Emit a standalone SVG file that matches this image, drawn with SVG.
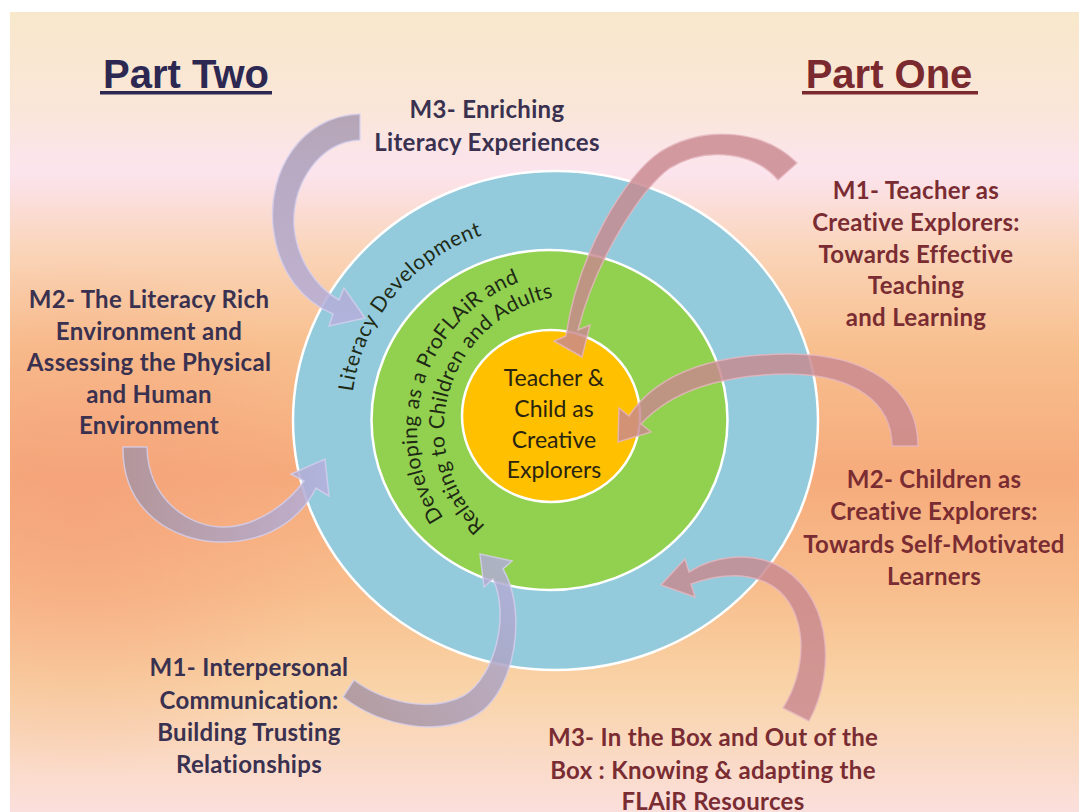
<svg xmlns="http://www.w3.org/2000/svg" width="1079" height="812" viewBox="0 0 1079 812">
<defs>
<linearGradient id="bg" x1="0" y1="12" x2="0" y2="812" gradientUnits="userSpaceOnUse">
<stop offset="0" stop-color="#f8e8cb"/>
<stop offset="0.12" stop-color="#fae6d8"/>
<stop offset="0.2" stop-color="#fce4ee"/>
<stop offset="0.3" stop-color="#fad4b8"/>
<stop offset="0.42" stop-color="#f8bf8e"/>
<stop offset="0.58" stop-color="#f6ab7c"/>
<stop offset="0.72" stop-color="#f8bd8c"/>
<stop offset="0.84" stop-color="#f9d3a6"/>
<stop offset="1" stop-color="#fbdfdc"/>
</linearGradient>
<radialGradient id="salmon" cx="80" cy="520" r="260" gradientUnits="userSpaceOnUse">
<stop offset="0" stop-color="#f49c78" stop-opacity="0.55"/>
<stop offset="1" stop-color="#f49c78" stop-opacity="0"/>
</radialGradient>
<linearGradient id="gA" x1="0" y1="114" x2="0" y2="330" gradientUnits="userSpaceOnUse">
<stop offset="0" stop-color="#a99aaf"/>
<stop offset="1" stop-color="#b6b0de"/>
</linearGradient>
<linearGradient id="gB" x1="123" y1="0" x2="330" y2="0" gradientUnits="userSpaceOnUse">
<stop offset="0" stop-color="#a7939f"/>
<stop offset="1" stop-color="#b6b0de"/>
</linearGradient>
<linearGradient id="gC" x1="343" y1="700" x2="500" y2="560" gradientUnits="userSpaceOnUse">
<stop offset="0" stop-color="#a7939f"/>
<stop offset="1" stop-color="#b2aed8"/>
</linearGradient>
<style>
.bg{fill:url(#bg)}
.ring{stroke:#ffffff;stroke-width:2.5}
.lbl{font-family:Lato,"Open Sans",sans-serif;font-weight:bold;font-size:24px;letter-spacing:0.3px;text-anchor:middle}
.left{fill:#3a3150}
.right{fill:#7a2c33}
.hdr{font-family:"Liberation Sans",Arial,sans-serif;font-weight:bold;font-size:40px;text-anchor:middle}
.arc{font-family:Lato,"Open Sans",sans-serif;font-size:21px;fill:#1e2a14}
.ctr{font-family:Lato,"Open Sans",sans-serif;font-size:23px;fill:#2a2410;text-anchor:middle}
.purp{fill-opacity:0.85;stroke:#d6cfee;stroke-width:1.5;stroke-opacity:0.8}
.pink{fill:#c8888f;fill-opacity:0.82;stroke:#e6b8c0;stroke-width:1.5;stroke-opacity:0.8}
</style>
<path id="pLit" d="M 351,418 A 193,193 0 0 1 544,225" fill="none"/>
<path id="pDev" d="M 454,531.6 A 158,158 0 0 1 547.6,274.4" fill="none"/>
<path id="pRel" d="M 501.1,538.8 A 134,134 0 0 1 566.3,295.5" fill="none"/>
</defs>
<rect x="0" y="0" width="1079" height="812" fill="#ffffff"/>
<rect x="10" y="12" width="1069" height="800" class="bg"/>
<rect x="10" y="12" width="1069" height="800" fill="url(#salmon)"/>

<g id="rings">
<ellipse cx="555.5" cy="420.5" rx="262.5" ry="249.5" fill="#93cbdc" class="ring"/>
<ellipse cx="549.5" cy="420" rx="178" ry="170" fill="#92d050" class="ring"/>
<ellipse cx="551" cy="416" rx="89" ry="86" fill="#ffc000" class="ring"/>
</g>

<g id="ring-texts">
<text class="arc" font-size="22" letter-spacing="0.6"><textPath href="#pLit" startOffset="26">Literacy Development</textPath></text>
<text class="arc" font-size="20" letter-spacing="0.3"><textPath href="#pDev" startOffset="17">Developing as a ProFLAiR and</textPath></text>
<text class="arc" font-size="20" letter-spacing="0.3"><textPath href="#pRel" startOffset="20">Relating to Children and Adults</textPath></text>
</g>

<g id="center">
<text class="ctr" x="554" y="386">Teacher &amp;</text>
<text class="ctr" x="554" y="417">Child as</text>
<text class="ctr" x="554" y="448">Creative</text>
<text class="ctr" x="554" y="478">Explorers</text>
</g>

<g id="connectors">
<path class="purp" fill="url(#gA)" d="M 360,114 L 360,140 C 318,142 292,185 294,226 C 297,262 318,288 339,300 L 344,288 L 365,318 L 329,326 L 333,314 C 305,302 278,275 273,226 C 268,172 300,116 360,114 Z"/>
<path class="purp" fill="url(#gB)" d="M 123,447 L 147,447 C 148,500 190,528 225,527 C 258,526 288,503 304,481 L 291,474 L 325,459 L 329,496 L 316,488 C 300,520 268,541 225,542 C 172,543 122,510 123,447 Z"/>
<path class="purp" fill="url(#gC)" d="M 343,697 L 354,680 C 386,704 432,712 463,696 C 495,678 510,615 493,579 L 484,587 L 480,554 L 512,561 L 503,569 C 528,612 515,690 478,714 C 440,738 380,726 343,697 Z"/>
<path class="pink" d="M 797,163 L 778,180 C 755,152 706,146 670,168 C 643,187 596,258 578,330 L 590,325 L 582,357 L 554,341 L 566,336 C 578,252 626,175 660,152 C 704,124 765,130 797,163 Z"/>
<path class="pink" d="M 918,446 L 892,446 C 892,403 855,375 790,374 C 725,374 672,390 641,424 L 651,432 L 618,442 L 619,408 L 629,416 C 658,372 715,354 790,354 C 866,354 918,388 918,446 Z"/>
<path class="pink" d="M 809,721 L 783,708 C 812,662 806,600 765,582 C 742,572 716,575 691,584 L 695,597 L 661,585 L 685,559 L 689,572 C 714,556 748,552 775,564 C 830,590 838,668 809,721 Z"/>
</g>

<g id="part-two">
<text class="hdr" x="186" y="88" fill="#2c2852">Part Two</text>
<rect x="100" y="91" width="172" height="3.5" fill="#2c2852"/>
</g>
<g id="part-one">
<text class="hdr" x="889" y="88" fill="#7a2a2e">Part One</text>
<rect x="802" y="91" width="176" height="3.5" fill="#7a2a2e"/>
</g>

<g id="m3-enriching">
<text class="lbl left" x="487" y="118">M3- Enriching</text>
<text class="lbl left" x="487" y="151">Literacy Experiences</text>
</g>
<g id="m2-literacy-rich">
<text class="lbl left" x="149" y="308">M2- The Literacy Rich</text>
<text class="lbl left" x="149" y="340">Environment and</text>
<text class="lbl left" x="149" y="371">Assessing the Physical</text>
<text class="lbl left" x="149" y="403">and Human</text>
<text class="lbl left" x="149" y="434">Environment</text>
</g>
<g id="m1-interpersonal">
<text class="lbl left" x="249" y="676">M1- Interpersonal</text>
<text class="lbl left" x="249" y="709">Communication:</text>
<text class="lbl left" x="249" y="741">Building Trusting</text>
<text class="lbl left" x="249" y="773">Relationships</text>
</g>
<g id="m1-teacher">
<text class="lbl right" x="916" y="199">M1- Teacher as</text>
<text class="lbl right" x="916" y="231">Creative Explorers:</text>
<text class="lbl right" x="916" y="263">Towards Effective</text>
<text class="lbl right" x="916" y="294">Teaching</text>
<text class="lbl right" x="916" y="326">and Learning</text>
</g>
<g id="m2-children">
<text class="lbl right" x="934" y="488">M2- Children as</text>
<text class="lbl right" x="934" y="520">Creative Explorers:</text>
<text class="lbl right" x="934" y="553">Towards Self-Motivated</text>
<text class="lbl right" x="934" y="585">Learners</text>
</g>
<g id="m3-box">
<text class="lbl right" x="713" y="746">M3- In the Box and Out of the</text>
<text class="lbl right" x="713" y="779">Box : Knowing &amp; adapting the</text>
<text class="lbl right" x="713" y="810">FLAiR Resources</text>
</g>
</svg>
